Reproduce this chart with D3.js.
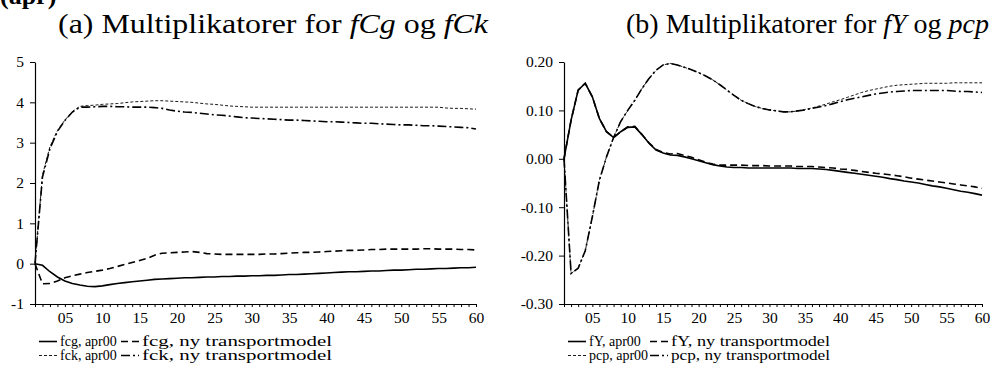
<!DOCTYPE html>
<html>
<head>
<meta charset="utf-8">
<script src="https://cdn.jsdelivr.net/npm/d3@7"></script>
<style>
  body { margin: 0; background: #fff; }
  svg text { font-family: "Liberation Serif", "Times New Roman", serif; fill: #000; }
</style>
</head>
<body>
<div id="chart"></div>
<script>
const width = 996;
const height = 369;

// periods 1..60, tick labels every 5th
const periods = d3.range(1, 61);
const tickLabels = ["05", "10", "15", "20", "25", "30", "35", "40", "45", "50", "55", "60"];

// panel (a): fCg and fCk multipliers
const fcgApr00 = [0, -0.04, -0.2, -0.33, -0.43, -0.49, -0.53, -0.56, -0.57, -0.55,
  -0.52, -0.49, -0.47, -0.45, -0.43, -0.41, -0.39, -0.38, -0.37, -0.36,
  -0.35, -0.35, -0.34, -0.33, -0.33, -0.32, -0.32, -0.31, -0.31, -0.3,
  -0.3, -0.29, -0.29, -0.28, -0.27, -0.27, -0.26, -0.25, -0.24, -0.23,
  -0.22, -0.21, -0.2, -0.2, -0.19, -0.18, -0.18, -0.17, -0.16, -0.16,
  -0.15, -0.14, -0.14, -0.13, -0.12, -0.12, -0.11, -0.1, -0.1, -0.09];
const fcgNy = [0, -0.5, -0.49, -0.43, -0.35, -0.3, -0.26, -0.22, -0.19, -0.16,
  -0.12, -0.07, -0.02, 0.03, 0.08, 0.13, 0.21, 0.26, 0.27, 0.28,
  0.29, 0.3, 0.28, 0.25, 0.24, 0.23, 0.23, 0.23, 0.23, 0.23,
  0.23, 0.24, 0.24, 0.25, 0.26, 0.27, 0.28, 0.28, 0.29, 0.3,
  0.31, 0.32, 0.33, 0.33, 0.34, 0.35, 0.35, 0.36, 0.36, 0.36,
  0.36, 0.36, 0.37, 0.37, 0.36, 0.36, 0.36, 0.35, 0.35, 0.34];
const fckApr00 = [0, 2.2, 2.9, 3.3, 3.56, 3.77, 3.9, 3.92, 3.93, 3.95,
  3.96, 3.97, 3.99, 4.01, 4.02, 4.03, 4.04, 4.04, 4.03, 4.02,
  4.01, 4.0, 3.98, 3.96, 3.95, 3.93, 3.91, 3.9, 3.89, 3.88,
  3.88, 3.88, 3.88, 3.88, 3.88, 3.88, 3.88, 3.88, 3.88, 3.88,
  3.88, 3.88, 3.88, 3.88, 3.88, 3.88, 3.88, 3.88, 3.88, 3.88,
  3.88, 3.88, 3.88, 3.88, 3.88, 3.86, 3.85, 3.85, 3.84, 3.83];
const fckNy = [0, 2.15, 2.85, 3.28, 3.55, 3.76, 3.88, 3.88, 3.89, 3.9,
  3.9, 3.89, 3.89, 3.88, 3.88, 3.88, 3.87, 3.85, 3.81, 3.78,
  3.76, 3.75, 3.73, 3.71, 3.69, 3.68, 3.66, 3.64, 3.62, 3.61,
  3.6, 3.59, 3.58, 3.57, 3.56, 3.56, 3.55, 3.54, 3.53, 3.52,
  3.52, 3.51, 3.5, 3.49, 3.48, 3.48, 3.47, 3.46, 3.45, 3.44,
  3.44, 3.43, 3.42, 3.42, 3.41, 3.4, 3.39, 3.38, 3.37, 3.34];

// panel (b): fY and pcp multipliers
const fyApr00 = [0, 0.08, 0.142, 0.156, 0.128, 0.083, 0.056, 0.044, 0.056, 0.065,
  0.066, 0.05, 0.032, 0.018, 0.012, 0.008, 0.007, 0.004, 0, -0.004,
  -0.008, -0.012, -0.015, -0.017, -0.018, -0.018, -0.019, -0.019, -0.019, -0.019,
  -0.019, -0.019, -0.019, -0.02, -0.02, -0.02, -0.021, -0.022, -0.024, -0.026,
  -0.028, -0.03, -0.032, -0.034, -0.036, -0.038, -0.041, -0.043, -0.046, -0.048,
  -0.05, -0.053, -0.056, -0.058, -0.061, -0.064, -0.067, -0.069, -0.072, -0.075];
const fyNy = [0, 0.08, 0.142, 0.156, 0.128, 0.083, 0.056, 0.044, 0.056, 0.066,
  0.067, 0.05, 0.033, 0.019, 0.013, 0.01, 0.011, 0.007, 0.003, -0.002,
  -0.007, -0.011, -0.013, -0.013, -0.013, -0.013, -0.014, -0.014, -0.014, -0.015,
  -0.015, -0.015, -0.015, -0.016, -0.016, -0.016, -0.017, -0.018, -0.019, -0.021,
  -0.022, -0.024, -0.026, -0.028, -0.03, -0.031, -0.033, -0.035, -0.037, -0.04,
  -0.042, -0.044, -0.046, -0.048, -0.05, -0.052, -0.054, -0.056, -0.058, -0.061];
const pcpApr00 = [0, -0.237, -0.226, -0.19, -0.12, -0.044, 0.004, 0.044, 0.077, 0.1,
  0.121, 0.145, 0.166, 0.183, 0.194, 0.197, 0.194, 0.189, 0.184, 0.178,
  0.171, 0.163, 0.153, 0.142, 0.131, 0.121, 0.114, 0.108, 0.104, 0.101,
  0.099, 0.097, 0.097, 0.099, 0.102, 0.105, 0.109, 0.113, 0.118, 0.122,
  0.127, 0.132, 0.137, 0.141, 0.144, 0.147, 0.15, 0.152, 0.153, 0.154,
  0.155, 0.156, 0.156, 0.156, 0.156, 0.157, 0.157, 0.157, 0.157, 0.157];
const pcpNy = [0, -0.237, -0.226, -0.19, -0.12, -0.044, 0.004, 0.044, 0.077, 0.1,
  0.121, 0.145, 0.166, 0.183, 0.194, 0.197, 0.194, 0.189, 0.184, 0.178,
  0.171, 0.163, 0.153, 0.142, 0.131, 0.121, 0.114, 0.108, 0.104, 0.101,
  0.099, 0.097, 0.097, 0.099, 0.101, 0.104, 0.107, 0.11, 0.114, 0.118,
  0.122, 0.125, 0.128, 0.131, 0.134, 0.136, 0.138, 0.139, 0.14, 0.141,
  0.141, 0.141, 0.141, 0.141, 0.141, 0.14, 0.139, 0.139, 0.138, 0.137];

// line styles: solid, long dash, short thin dash, dash-dot
const styles = {
  solid: { dash: null, width: 1.6 },
  dashed: { dash: "7,4", width: 1.6 },
  dotted: { dash: "3,2", width: 0.9 },
  dashdot: { dash: "9,3,2,3", width: 1.6 }
};

// hyphen instead of unicode minus, like the original
const hyph = (f) => (d) => f(d).replace("\u2212", "-");

const panels = [
  {
    title: ["(a) Multiplikatorer for ", "fCg", " og ", "fCk"],
    titleX: 58, titleLen: 430,
    x0: 35, x1: 476,
    yDomain: [-1, 5],
    yTicks: [-1, 0, 1, 2, 3, 4, 5],
    yFormat: hyph(d3.format("d")),
    series: [
      { name: "fcg, apr00", values: fcgApr00, style: "solid" },
      { name: "fcg, ny transportmodel", values: fcgNy, style: "dashed" },
      { name: "fck, apr00", values: fckApr00, style: "dotted" },
      { name: "fck, ny transportmodel", values: fckNy, style: "dashdot" }
    ],
    legendX: 39, legendCol2: 121, col2Len: 190
  },
  {
    title: ["(b) Multiplikatorer for ", "fY", " og ", "pcp"],
    titleX: 626, titleLen: 363,
    x0: 564, x1: 982,
    yDomain: [-0.3, 0.2],
    yTicks: [-0.3, -0.2, -0.1, 0, 0.1, 0.2],
    yFormat: hyph(d3.format(".2f")),
    series: [
      { name: "fY, apr00", values: fyApr00, style: "solid" },
      { name: "fY, ny transportmodel", values: fyNy, style: "dashed" },
      { name: "pcp, apr00", values: pcpApr00, style: "dotted" },
      { name: "pcp, ny transportmodel", values: pcpNy, style: "dashdot" }
    ],
    legendX: 568, legendCol2: 650, col2Len: 159
  }
];

const yTop = 62;
const yBottom = 304;
const serif = "'Liberation Serif', 'Times New Roman', serif";

const svg = d3.select("#chart")
  .append("svg")
  .attr("width", width)
  .attr("height", height)
  .attr("viewBox", `0 0 ${width} ${height}`);

svg.append("rect").attr("width", width).attr("height", height).attr("fill", "#fff");

// heading cut off at the very top
svg.append("text")
  .attr("x", 0)
  .attr("y", 4)
  .attr("font-size", 26)
  .attr("font-weight", "bold")
  .text("(apr)");

function drawPanel(p) {
  const x = d3.scaleLinear().domain([1, 60]).range([p.x0, p.x1]);
  const y = d3.scaleLinear().domain(p.yDomain).range([yBottom, yTop]);
  const g = svg.append("g");

  // title
  const t = g.append("text")
    .attr("x", p.titleX)
    .attr("y", 33)
    .attr("font-size", 28)
    .attr("textLength", p.titleLen)
    .attr("lengthAdjust", "spacingAndGlyphs");
  p.title.forEach((s, i) => {
    t.append("tspan")
      .attr("font-style", i % 2 === 1 ? "italic" : "normal")
      .text(s);
  });

  // y axis
  const yAxis = g.append("g")
    .attr("transform", `translate(${p.x0},0)`)
    .call(d3.axisLeft(y).tickValues(p.yTicks).tickFormat(p.yFormat).tickSize(5).tickSizeOuter(0).tickPadding(6))
    .attr("font-family", serif)
    .attr("font-size", 15.5);

  // x axis: a tick every period, labels every fifth
  const xAxis = g.append("g")
    .attr("transform", `translate(0,${yBottom})`)
    .call(d3.axisBottom(x).tickValues(periods).tickSize(3).tickSizeOuter(0).tickPadding(5)
      .tickFormat((d) => (d % 5 === 0 ? tickLabels[d / 5 - 1] : "")))
    .attr("font-family", serif)
    .attr("font-size", 15.5);
  g.selectAll(".domain").attr("stroke", "#000").attr("stroke-width", 1.2);
  g.selectAll(".tick line").attr("stroke", "#000");

  // lines
  const line = d3.line()
    .x((d, i) => x(periods[i]))
    .y((d) => y(d));

  p.series.forEach((s) => {
    const st = styles[s.style];
    g.append("path")
      .datum(s.values)
      .attr("fill", "none")
      .attr("stroke", "#000")
      .attr("stroke-width", st.width)
      .attr("stroke-dasharray", st.dash)
      .attr("d", line);
  });

  // legend, 2x2
  p.series.forEach((s, i) => {
    const st = styles[s.style];
    const col2 = i % 2 === 1;
    const lx = col2 ? p.legendCol2 : p.legendX;
    const ly = i < 2 ? 341.5 : 355.5;
    g.append("line")
      .attr("x1", lx).attr("x2", lx + 18)
      .attr("y1", ly).attr("y2", ly)
      .attr("stroke", "#000")
      .attr("stroke-width", st.width)
      .attr("stroke-dasharray", st.dash);
    const txt = g.append("text")
      .attr("x", lx + 21)
      .attr("y", ly + 4.5)
      .attr("font-size", 14)
      .text(s.name);
    if (col2) txt.attr("textLength", p.col2Len).attr("lengthAdjust", "spacingAndGlyphs");
  });
}

panels.forEach(drawPanel);
</script>
</body>
</html>
